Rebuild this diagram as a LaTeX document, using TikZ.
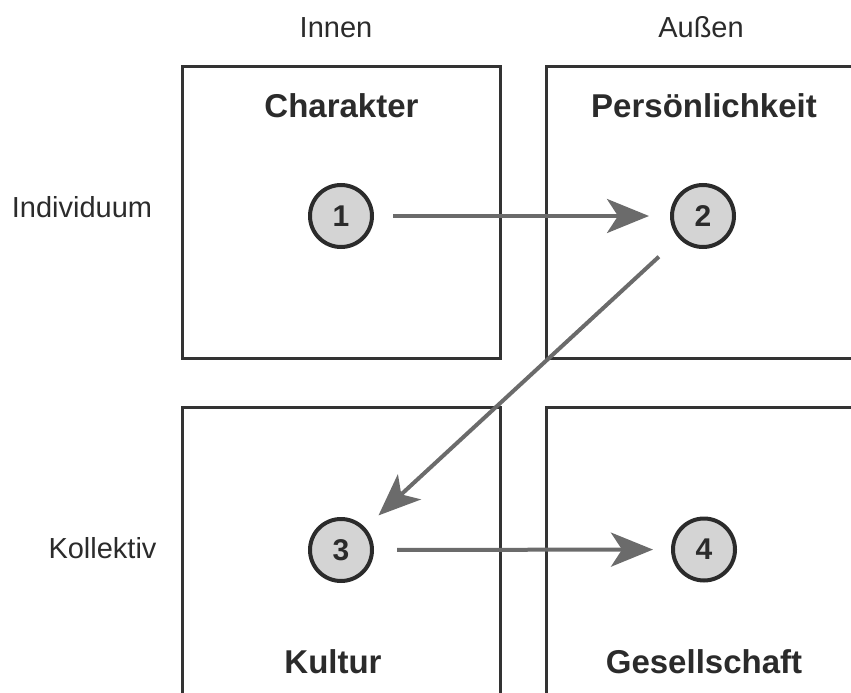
\documentclass[tikz,border=0pt]{standalone}
\usepackage{fontspec}
\setmainfont{Liberation Sans}
\usetikzlibrary{arrows.meta}
\definecolor{ink}{HTML}{2B2B2B}
\definecolor{framecol}{HTML}{333333}
\definecolor{arrowcol}{HTML}{6B6B6B}
\definecolor{discfill}{HTML}{D4D4D4}
\begin{document}
\begin{tikzpicture}[x=1pt,y=-1pt,
  field/.style={draw=framecol, line width=3pt, minimum width=318pt, minimum height=291pt, inner sep=0pt},
  fieldtitle/.style={anchor=base, text=ink, font=\fontsize{33}{36}\selectfont\bfseries},
  axislabel/.style={anchor=base, text=ink, font=\fontsize{29}{32}\selectfont},
  disc/.style={circle, draw=ink, fill=discfill, line width=4pt, minimum size=62pt, inner sep=0pt,
               text=ink, font=\fontsize{30}{32}\selectfont\bfseries},
  flow/.style={draw=arrowcol, line width=4pt,
               -{Stealth[length=42pt, width=34pt, inset=11pt, fill=arrowcol]}}]
  \clip (0,0) rectangle (851,693);
  \useasboundingbox (0,0) rectangle (851,693);

  % four quadrants
  \node[field] (qa) at (341,212.5) {};
  \node[field] (qb) at (705,212.5) {};
  \node[field] (qc) at (341,552.5) {};
  \node[field] (qd) at (705,552.5) {};

  % axis labels
  \node[axislabel] (inner)  at (336,38)  {Innen};
  \node[axislabel] (outer)  at (701,38)  {Außen};
  \node[axislabel] (indiv)  at (82,217)  {Individuum};
  \node[axislabel] (kollek) at (102.5,558) {Kollektiv};

  % quadrant titles
  \node[fieldtitle] (ta) at (341.5,117) {Charakter};
  \node[fieldtitle] (tb) at (704,117)   {Persönlichkeit};
  \node[fieldtitle] (tc) at (333,673)   {Kultur};
  \node[fieldtitle] (td) at (704,673)   {Gesellschaft};

  % numbered stages
  \node[disc] (s1) at (341,216) {1};
  \node[disc] (s2) at (703,216) {2};
  \node[disc] (s3) at (341,550) {3};
  \node[disc] (s4) at (704,549.5) {4};

  % transitions
  \draw[flow, shorten <=19pt, shorten >=21pt] (s1) -- (s2);
  \draw[flow, shorten <=27pt, shorten >=18pt] (s2) -- (s3);
  \draw[flow, shorten <=23pt, shorten >=18pt] (s3) -- (s4);
\end{tikzpicture}
\end{document}
